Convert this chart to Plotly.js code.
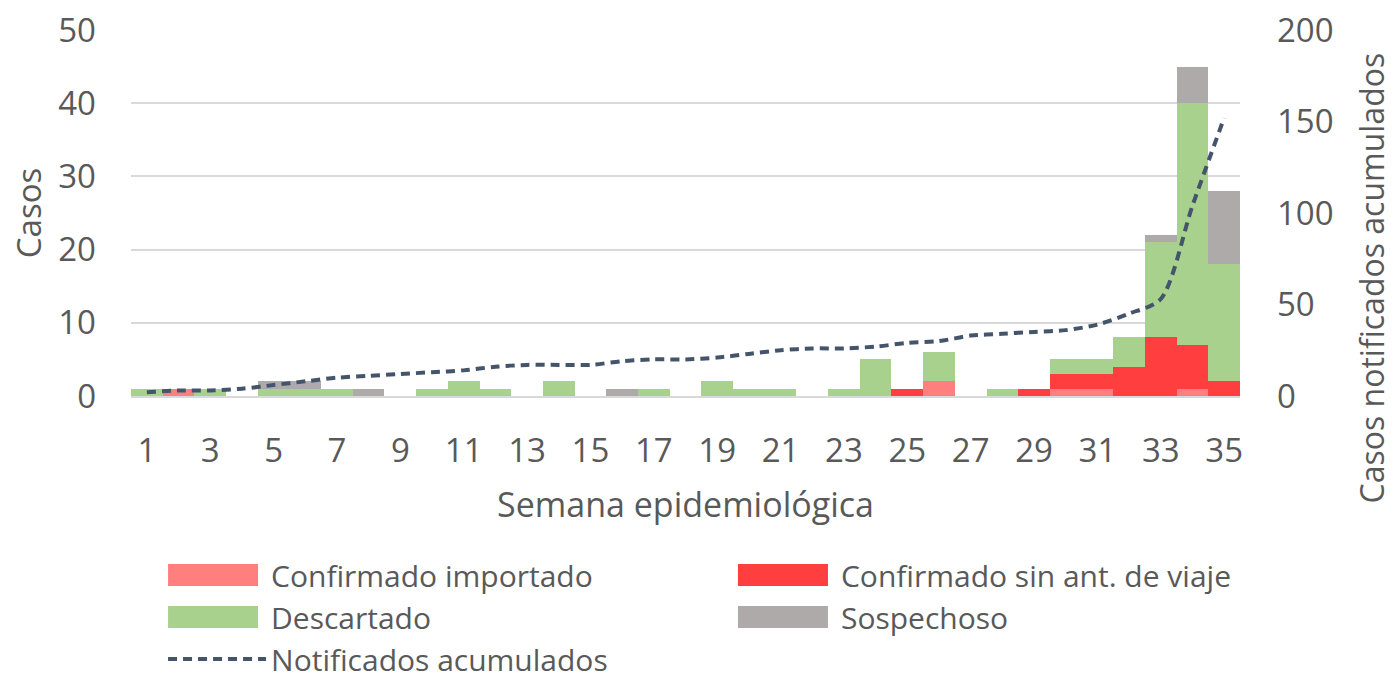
<!DOCTYPE html>
<html>
<head>
<meta charset="utf-8">
<script src="https://cdn.plot.ly/plotly-3.0.1.min.js"></script>
<style>
  html, body { margin: 0; padding: 0; background: #ffffff; }
  #chart { width: 1393px; height: 682px; }
</style>
</head>
<body>
<div id="chart"></div>
<script>
// ---- Data ----
const weeks = [1,2,3,4,5,6,7,8,9,10,11,12,13,14,15,16,17,18,19,20,21,22,23,24,25,26,27,28,29,30,31,32,33,34,35];
const confirmadoImportado = [0,1,0,0,0,0,0,0,0,0,0,0,0,0,0,0,0,0,0,0,0,0,0,0,0,2,0,0,0,1,1,0,0,1,0];
const confirmadoSinViaje  = [0,0,0,0,0,0,0,0,0,0,0,0,0,0,0,0,0,0,0,0,0,0,0,0,1,0,0,0,1,2,2,4,8,6,2];
const descartado          = [1,0,1,0,1,1,1,0,0,1,2,1,0,2,0,0,1,0,2,1,1,0,1,5,0,4,0,1,0,2,2,4,13,33,16];
const sospechoso          = [0,0,0,0,1,1,0,1,0,0,0,0,0,0,0,1,0,0,0,0,0,0,0,0,0,0,0,0,0,0,0,0,1,5,10];
const notificadosAcumulados = [2,3,3,4,6,8,10,11,12,13,14,16,17,17,17,19,20,20,21,23,25,26,26,27,29,30,33,34,35,36,39,45,53,104,152];
const xTickVals = [1,3,5,7,9,11,13,15,17,19,21,23,25,27,29,31,33,35];
const yTickVals = [0,10,20,30,40,50];
const y2TickVals = [0,50,100,150,200];

const FONT = '"Open Sans", Lato, sans-serif';
const TXT = '#595959';

const colors = {
  importado: '#FF7F7F',
  sinViaje: '#FF3F3F',
  descartado: '#A9D18E',
  sospechoso: '#AEAAAA',
  line: '#44546A'
};

const traces = [
  { type: 'bar', name: 'Confirmado importado', x: weeks, y: confirmadoImportado,
    marker: { color: colors.importado, line: { width: 0 } }, legend: 'legend' },
  { type: 'bar', name: 'Confirmado sin ant. de viaje', x: weeks, y: confirmadoSinViaje,
    marker: { color: colors.sinViaje, line: { width: 0 } }, legend: 'legend2' },
  { type: 'bar', name: 'Descartado', x: weeks, y: descartado,
    marker: { color: colors.descartado, line: { width: 0 } }, legend: 'legend' },
  { type: 'bar', name: 'Sospechoso', x: weeks, y: sospechoso,
    marker: { color: colors.sospechoso, line: { width: 0 } }, legend: 'legend2' },
  { type: 'scatter', mode: 'lines', name: 'Notificados acumulados', x: weeks, y: notificadosAcumulados,
    yaxis: 'y2', line: { color: colors.line, width: 4, dash: '9px,6px', shape: 'spline', smoothing: 0.8 },
    legend: 'legend' }
];

const legendCommon = {
  orientation: 'v',
  font: { family: FONT, size: 30, color: TXT },
  bgcolor: 'rgba(0,0,0,0)',
  borderwidth: 0,
  itemwidth: 98,
  traceorder: 'normal',
  xanchor: 'left',
  yanchor: 'top'
};

const layout = {
  width: 1393,
  height: 682,
  margin: { l: 131, r: 153, t: 30, b: 286, autoexpand: false },
  paper_bgcolor: '#ffffff',
  plot_bgcolor: '#ffffff',
  barmode: 'stack',
  bargap: 0,
  font: { family: FONT, color: TXT },
  xaxis: {
    range: [0.5, 35.5],
    tickmode: 'array',
    tickvals: xTickVals,
    ticktext: xTickVals.map(String),
    tickfont: { family: FONT, size: 33, color: TXT },
    ticks: '',
    ticklabelstandoff: 24,
    showgrid: false,
    zeroline: false,
    showline: true,
    linecolor: '#D9D9D9',
    linewidth: 2,
    title: { text: 'Semana epidemiológica', font: { family: FONT, size: 34, color: TXT }, standoff: 23 }
  },
  yaxis: {
    range: [0, 50],
    tickmode: 'array',
    tickvals: yTickVals,
    tickfont: { family: FONT, size: 33, color: TXT },
    ticks: '',
    ticklabelstandoff: 34,
    showgrid: true,
    gridcolor: '#D9D9D9',
    gridwidth: 2,
    zeroline: false,
    showline: false,
    title: { text: 'Casos', font: { family: FONT, size: 33, color: TXT }, standoff: 6 }
  },
  yaxis2: {
    range: [0, 200],
    overlaying: 'y',
    side: 'right',
    tickmode: 'array',
    tickvals: y2TickVals,
    tickfont: { family: FONT, size: 33, color: TXT },
    ticks: '',
    ticklabelstandoff: 36,
    showgrid: false,
    zeroline: false,
    showline: false
  },
  legend: Object.assign({}, legendCommon, { x: 0.0289, y: -0.418 }),
  legend2: Object.assign({}, legendCommon, { x: 0.5428, y: -0.418 }),
  annotations: [
    {
      text: 'Casos notificados acumulados',
      xref: 'paper', yref: 'paper',
      x: 1.1185, y: 0.3224,
      xanchor: 'center', yanchor: 'middle',
      textangle: -90,
      showarrow: false,
      font: { family: FONT, size: 32, color: TXT }
    }
  ],
  showlegend: true
};

function widenSwatches() {
  document.querySelectorAll('#chart path.legendbar, #chart path.legendundefined').forEach(function (p) {
    p.setAttribute('d', 'M41,11H-49V-11H41Z');
  });
}

Plotly.newPlot('chart', traces, layout, { displayModeBar: false, staticPlot: true }).then(function (gd) {
  // widen the bar legend swatches to Excel-like wide rectangles
  widenSwatches();
  setTimeout(widenSwatches, 50);
});
</script>
</body>
</html>
